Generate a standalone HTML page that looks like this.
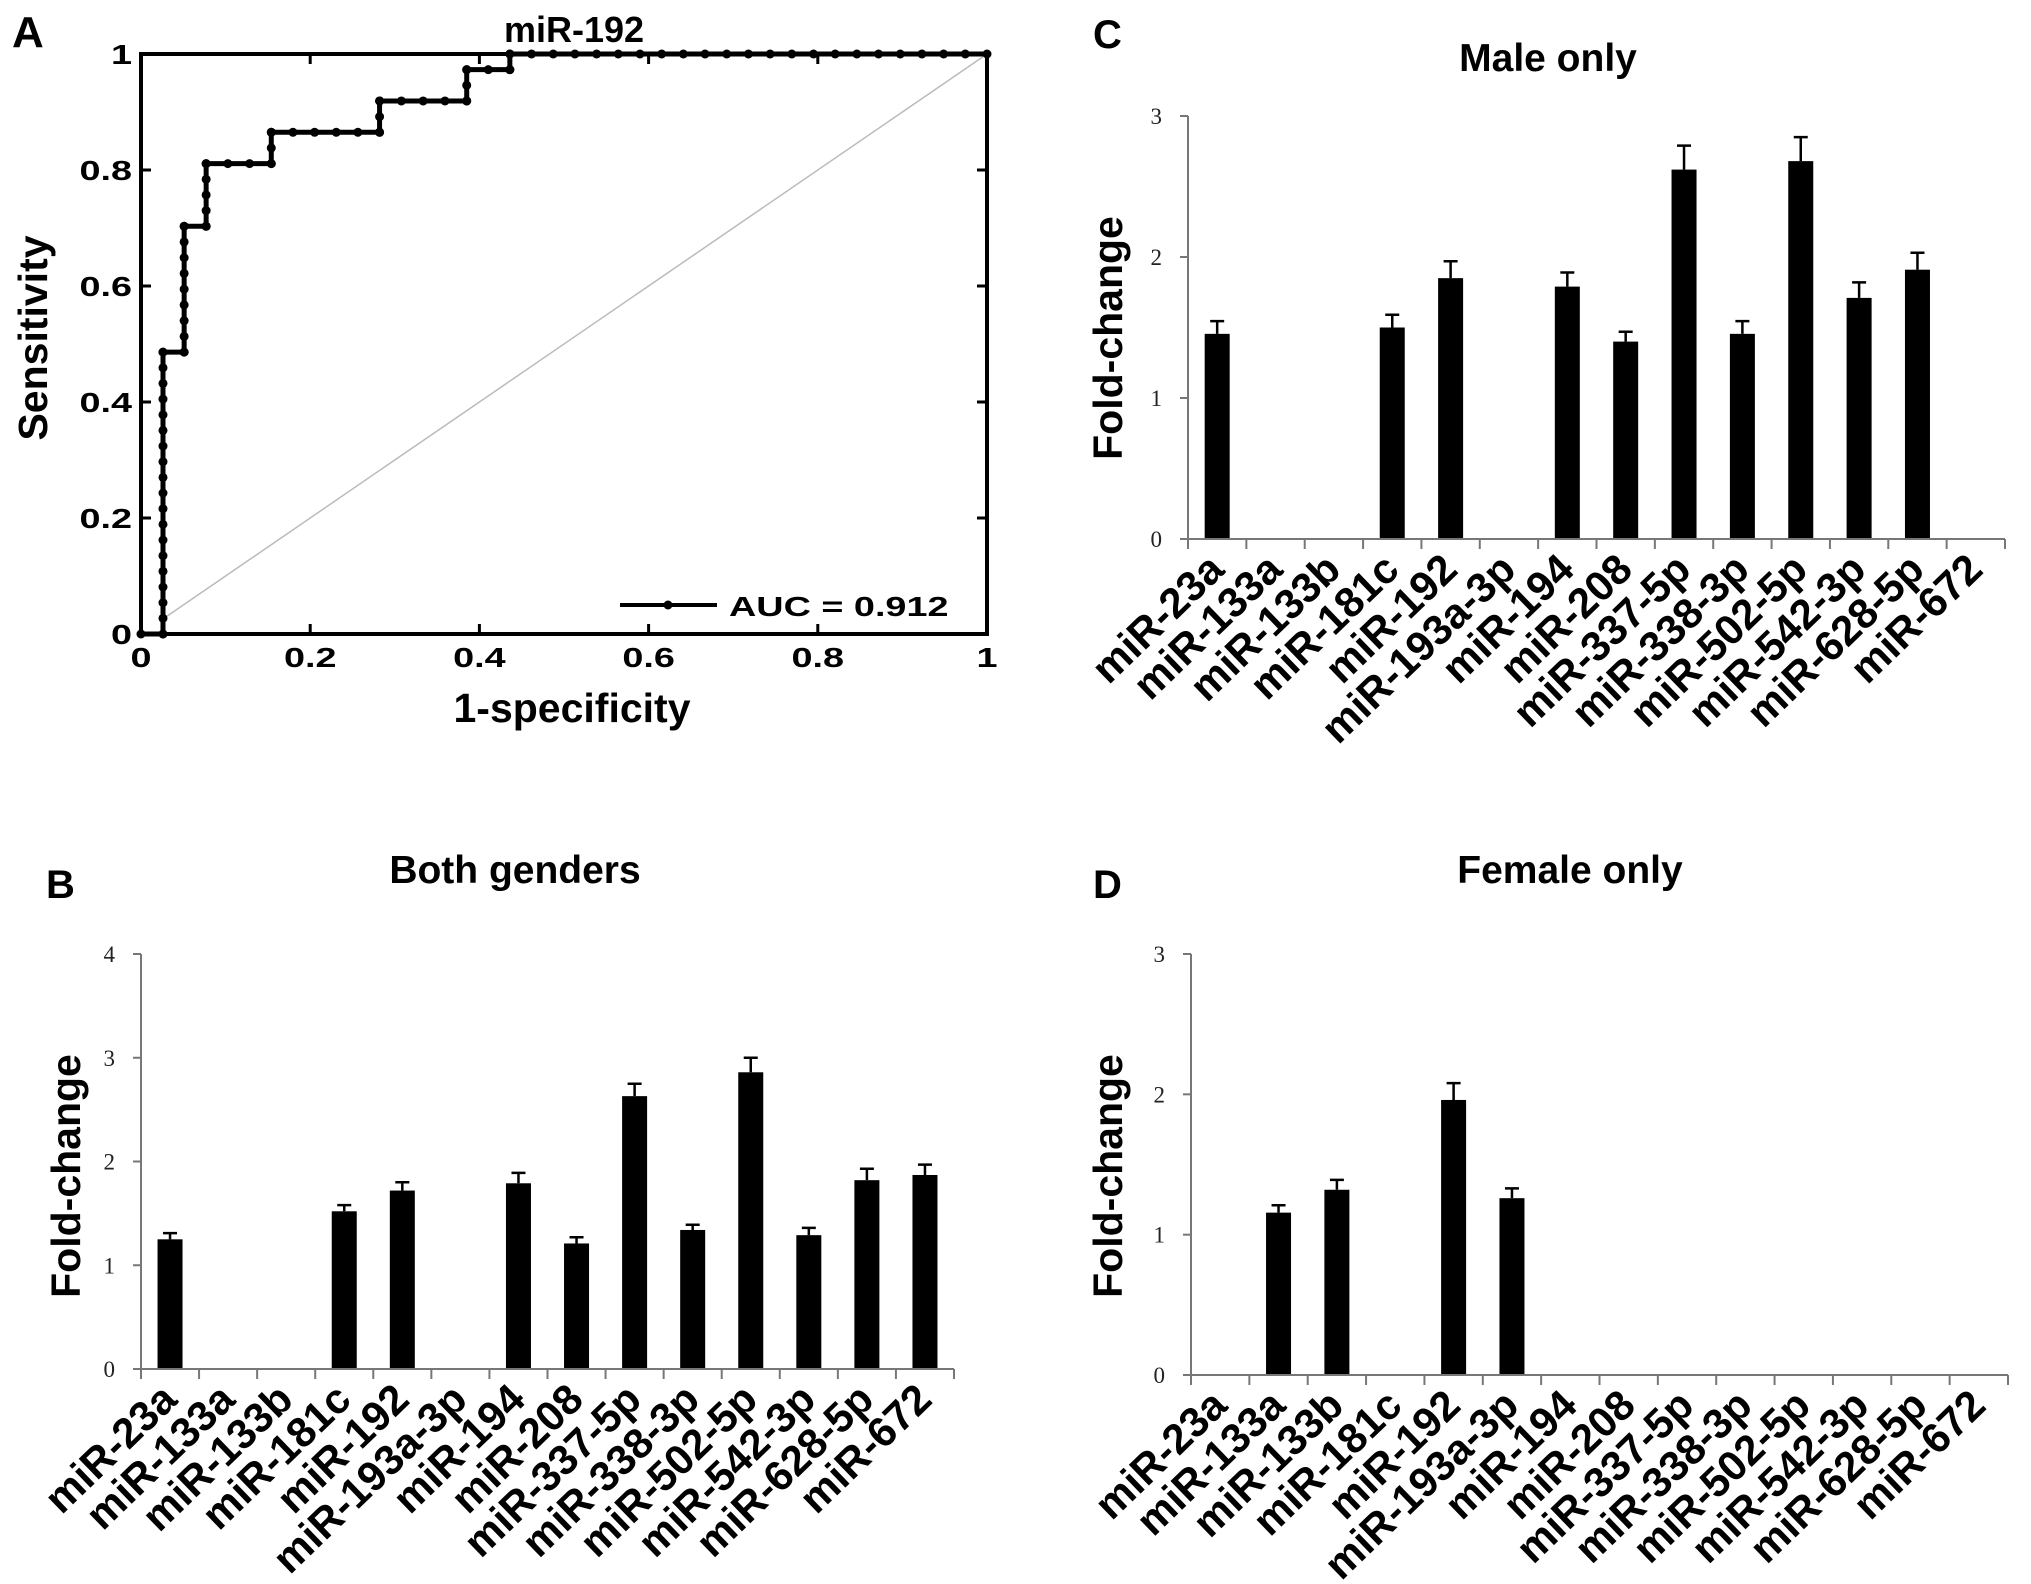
<!DOCTYPE html>
<html><head><meta charset="utf-8"><style>
html,body{margin:0;padding:0;background:#fff;}
svg{display:block;}
text{font-family:"Liberation Sans",Arial,sans-serif;}
</style></head>
<body>
<svg id="fig" width="2031" height="1584" viewBox="0 0 2031 1584" xmlns="http://www.w3.org/2000/svg">
<rect x="0" y="0" width="2031" height="1584" fill="#fff"/>
</svg>
<script>
// ---------- ROC data (panel A) ----------
const rocFpr = [0, 0.026, 0.026, 0.051, 0.051, 0.077, 0.077, 0.154, 0.154, 0.282, 0.282, 0.385, 0.385, 0.436, 0.436, 1];
const rocTpr = [0, 0, 0.486, 0.486, 0.703, 0.703, 0.811, 0.811, 0.865, 0.865, 0.919, 0.919, 0.973, 0.973, 1, 1];
const rocTicks = [0, 0.2, 0.4, 0.6, 0.8, 1];
const rocTickLabels = ["0", "0.2", "0.4", "0.6", "0.8", "1"];
const aucLabel = "AUC = 0.912";

// ---------- Bar data ----------
const categories = ["miR-23a","miR-133a","miR-133b","miR-181c","miR-192","miR-193a-3p","miR-194","miR-208","miR-337-5p","miR-338-3p","miR-502-5p","miR-542-3p","miR-628-5p","miR-672"];
const bothValues = [1.25, 0, 0, 1.52, 1.72, 0, 1.79, 1.21, 2.63, 1.34, 2.86, 1.29, 1.82, 1.87];
const bothErrors = [0.06, 0, 0, 0.06, 0.08, 0, 0.10, 0.06, 0.12, 0.05, 0.14, 0.07, 0.11, 0.10];
const maleValues = [1.455, 0, 0, 1.50, 1.85, 0, 1.79, 1.40, 2.62, 1.455, 2.68, 1.71, 1.91, 0];
const maleErrors = [0.09, 0, 0, 0.09, 0.12, 0, 0.10, 0.07, 0.17, 0.09, 0.17, 0.11, 0.12, 0];
const femaleValues = [0, 1.157, 1.32, 0, 1.96, 1.26, 0, 0, 0, 0, 0, 0, 0, 0];
const femaleErrors = [0, 0.053, 0.07, 0, 0.12, 0.07, 0, 0, 0, 0, 0, 0, 0, 0];
const bothTicks = [0, 1, 2, 3, 4];
const maleTicks = [0, 1, 2, 3];
const femaleTicks = [0, 1, 2, 3];

const NS = "http://www.w3.org/2000/svg";
const svg = document.getElementById("fig");
function mk(tag, attrs, parent, txt) {
  const el = document.createElementNS(NS, tag);
  for (const k in attrs) el.setAttribute(k, attrs[k]);
  if (txt !== undefined) el.textContent = txt;
  (parent || svg).appendChild(el);
  return el;
}

// ---------- Panel A ----------
(function () {
  const L = 141, R = 987, T = 54, B = 634;
  const sx = v => L + v * (R - L);
  const sy = v => B - v * (B - T);
  const g = mk("g", {});
  
  

  const letter = mk("text", {x: 12, y: 47, "font-size": 44, "font-weight": "bold"}, g, "A");
  
  

  const title = mk("text", {x: 574, y: 42, "font-size": 36, "font-weight": "bold", "text-anchor": "middle"}, g, "miR-192");
  
  

  const diag = mk("line", {x1: sx(0.03), y1: sy(0.03), x2: sx(1), y2: sy(1), stroke: "#bbb", "stroke-width": 1.5}, g);
  
  

  rocTicks.forEach((t, i) => {
    const tk = mk("path", {d: `M${sx(t)},${B} v-10 M${sx(t)},${T} v10 M${L},${sy(t)} h10 M${R},${sy(t)} h-10`, stroke: "#000", "stroke-width": 3}, g);
    
    
    const xl = mk("text", {transform: `translate(${sx(t)},667) scale(1.35,1)`, "font-size": 28, "font-weight": "bold", "text-anchor": "middle"}, g, rocTickLabels[i]);
    
    
    const yl = mk("text", {transform: `translate(132,${sy(t) + 10}) scale(1.35,1)`, "font-size": 28, "font-weight": "bold", "text-anchor": "end"}, g, rocTickLabels[i]);
    
    
  });

  let d = "";
  rocFpr.forEach((f, i) => { d += (i ? "L" : "M") + sx(f) + "," + sy(rocTpr[i]); });
  const curve = mk("path", {d: d, fill: "none", stroke: "#000", "stroke-width": 5, "stroke-linejoin": "miter"}, g);
  
  
  for (let i = 1; i < rocFpr.length; i++) {
    const x0 = rocFpr[i - 1], y0 = rocTpr[i - 1], x1 = rocFpr[i], y1 = rocTpr[i];
    const len = Math.abs(x1 - x0) * 39 + Math.abs(y1 - y0) * 37;
    const n = Math.max(1, Math.round(len));
    for (let k = 0; k <= n; k++) {
      const fx = x0 + (x1 - x0) * k / n, fy = y0 + (y1 - y0) * k / n;
      const c = mk("circle", {cx: sx(fx), cy: sy(fy), r: 4.5, fill: "#000"}, g);
      
      
    }
  }

  const box = mk("rect", {x: L, y: T, width: R - L, height: B - T, fill: "none", stroke: "#000", "stroke-width": 4}, g);
  
  

  const legLine = mk("line", {x1: 620, y1: 605, x2: 717, y2: 605, stroke: "#000", "stroke-width": 4}, g);
  
  
  const legDot = mk("circle", {cx: 668, cy: 605, r: 4.5, fill: "#000"}, g);
  
  
  const legTxt = mk("text", {transform: "translate(729,616) scale(1.35,1)", "font-size": 28, "font-weight": "bold"}, g, aucLabel);
  
  

  const xt = mk("text", {x: 572, y: 722, "font-size": 41, "font-weight": "bold", "text-anchor": "middle"}, g, "1-specificity");
  
  
  const yt = mk("text", {transform: "translate(47,338) rotate(-90)", "font-size": 41, "font-weight": "bold", "text-anchor": "middle"}, g, "Sensitivity");
  
  
})();

// ---------- Bar panels ----------
function barPanel(cfg, values, errors, ticks) {
  const {name, letter, title, L, R, y0, yTop, yMax, letterX, letterY, titleX, titleY, ytX, ytY} = cfg;
  const g = mk("g", {});
  
  
  const cw = (R - L) / categories.length;
  const sy = v => y0 - v / yMax * (y0 - yTop);
  const cx = i => L + cw * (i + 0.5);

  const lt = mk("text", {x: letterX, y: letterY, "font-size": 40, "font-weight": "bold"}, g, letter);
  
  
  const tt = mk("text", {x: titleX, y: titleY, "font-size": 39, "font-weight": "bold", "text-anchor": "middle"}, g, title);
  
  
  const yt = mk("text", {transform: `translate(${ytX},${ytY}) rotate(-90)`, "font-size": 41, "font-weight": "bold", "text-anchor": "middle"}, g, "Fold-change");
  
  

  values.forEach((v, i) => {
    if (v <= 0) return;
    const bw = 25;
    const b = mk("rect", {x: cx(i) - bw / 2, y: sy(v), width: bw, height: y0 - sy(v), fill: "#000"}, g);
    
    
    const e = errors[i];
    const eb = mk("path", {d: `M${cx(i)},${sy(v)} V${sy(v + e)} M${cx(i) - 7},${sy(v + e)} h14`, stroke: "#000", "stroke-width": 2.5, fill: "none"}, g);
    
    
  });

  const ya = mk("line", {x1: L, y1: yTop, x2: L, y2: y0, stroke: "#777", "stroke-width": 2}, g);
  
  
  const xa = mk("line", {x1: L - 8, y1: y0, x2: R, y2: y0, stroke: "#777", "stroke-width": 2}, g);
  
  
  ticks.forEach(t => {
    const tk = mk("line", {x1: L - 8, y1: sy(t), x2: L, y2: sy(t), stroke: "#777", "stroke-width": 2}, g);
    
    
    const tl = mk("text", {x: L - 26, y: sy(t) + 8, "font-size": 23, "text-anchor": "end", fill: "#222", style: "font-family:'Liberation Serif',serif"}, g, String(t));
    
    
  });
  for (let i = 0; i <= categories.length; i++) {
    const x = L + cw * i;
    const tk = mk("line", {x1: x, y1: y0, x2: x, y2: y0 + 10, stroke: "#777", "stroke-width": 2}, g);
    
    
  }
  categories.forEach((c, i) => {
    const bx = cx(i) + 9, by = y0 + 33;
    const lb = mk("text", {transform: `translate(${bx},${by}) rotate(-44)`, "font-size": 42, "font-weight": "bold", "text-anchor": "end"}, g, c);
    
    
  });
}

barPanel({name: "both-genders-chart", letter: "B", title: "Both genders", L: 141, R: 954, y0: 1369, yTop: 954, yMax: 4,
  letterX: 46, letterY: 898, titleX: 515, titleY: 883, ytX: 80, ytY: 1176}, bothValues, bothErrors, bothTicks);
barPanel({name: "male-only-chart", letter: "C", title: "Male only", L: 1188, R: 2005, y0: 539, yTop: 116, yMax: 3,
  letterX: 1093, letterY: 48, titleX: 1548, titleY: 71, ytX: 1122, ytY: 338}, maleValues, maleErrors, maleTicks);
barPanel({name: "female-only-chart", letter: "D", title: "Female only", L: 1191, R: 2008, y0: 1375, yTop: 954, yMax: 3,
  letterX: 1093, letterY: 898, titleX: 1570, titleY: 883, ytX: 1122, ytY: 1176}, femaleValues, femaleErrors, femaleTicks);
</script>
</body></html>
